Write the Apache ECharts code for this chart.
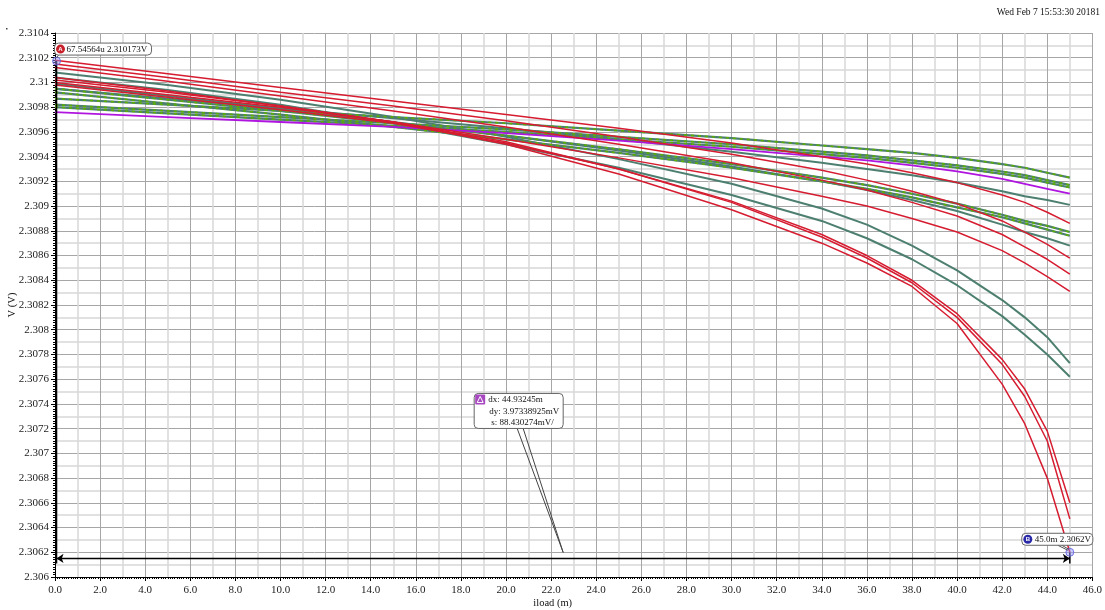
<!DOCTYPE html>
<html><head><meta charset="utf-8">
<script src="https://cdn.jsdelivr.net/npm/echarts@6/dist/echarts.min.js"></script>
<style>html,body{margin:0;padding:0;background:#fff}#c{width:1105px;height:610px}</style>
</head><body><div id="c"></div>
<script>
// ---- data ----
const xLoad = [0, 5, 10, 15, 20, 25, 30, 34, 36, 38, 40, 42, 43, 44, 45];
const red1 = [2.31018, 2.31007, 2.30996, 2.30985, 2.30974, 2.30963, 2.30951, 2.30940, 2.30934, 2.30927, 2.30919, 2.30909, 2.30903, 2.30895, 2.30886];
const red2 = [2.31015, 2.31004, 2.30992, 2.30981, 2.30969, 2.30956, 2.30942, 2.30929, 2.30921, 2.30912, 2.30902, 2.30888, 2.30879, 2.30869, 2.30858];
const red3 = [2.31012, 2.31001, 2.30989, 2.30977, 2.30964, 2.30950, 2.30935, 2.30921, 2.30913, 2.30903, 2.30892, 2.30877, 2.30867, 2.30857, 2.30845];
const red4 = [2.31004, 2.30993, 2.30981, 2.30968, 2.30954, 2.30939, 2.30923, 2.30908, 2.30900, 2.30890, 2.30879, 2.30864, 2.30854, 2.30843, 2.30831];
const redSteepA = [2.30998, 2.30988, 2.30978, 2.30967, 2.30951, 2.30930, 2.30904, 2.30877, 2.30860, 2.30840, 2.30813, 2.30776, 2.30752, 2.30718, 2.30660];
const redSteepB = [2.31000, 2.30990, 2.30980, 2.30968, 2.30952, 2.30930, 2.30903, 2.30875, 2.30858, 2.30838, 2.30810, 2.30772, 2.30746, 2.30710, 2.30647];
const redSteepC = [2.31002, 2.30992, 2.30981, 2.30968, 2.30950, 2.30926, 2.30897, 2.30870, 2.30854, 2.30835, 2.30805, 2.30756, 2.30724, 2.30680, 2.30620];
const tealM = [2.31008, 2.30998, 2.30986, 2.30972, 2.30956, 2.30938, 2.30918, 2.30898, 2.30885, 2.30868, 2.30848, 2.30824, 2.30810, 2.30794, 2.30773];
const tealN = [2.31004, 2.30994, 2.30982, 2.30967, 2.30950, 2.30931, 2.30909, 2.30888, 2.30874, 2.30857, 2.30836, 2.30811, 2.30796, 2.30780, 2.30762];
const tealI = [2.30999, 2.30989, 2.30979, 2.30968, 2.30957, 2.30945, 2.30932, 2.30920, 2.30913, 2.30905, 2.30896, 2.30885, 2.30879, 2.30874, 2.30868];
const tealE = [2.30995, 2.30987, 2.30979, 2.30971, 2.30963, 2.30954, 2.30944, 2.30935, 2.30930, 2.30925, 2.30919, 2.30912, 2.30908, 2.30905, 2.30901];
const bandG = [2.30995, 2.30986, 2.30977, 2.30967, 2.30957, 2.30946, 2.30934, 2.30923, 2.30917, 2.30910, 2.30902, 2.30893, 2.30888, 2.30884, 2.30879];
const bandH = [2.30992, 2.30983, 2.30974, 2.30964, 2.30954, 2.30943, 2.30931, 2.30920, 2.30914, 2.30907, 2.30899, 2.30891, 2.30886, 2.30881, 2.30876];
const bandA = [2.30987, 2.30982, 2.30977, 2.30972, 2.30967, 2.30961, 2.30955, 2.30949, 2.30946, 2.30943, 2.30939, 2.30934, 2.30931, 2.30927, 2.30923];
const bandB = [2.30982, 2.30977, 2.30972, 2.30967, 2.30962, 2.30956, 2.30950, 2.30944, 2.30941, 2.30937, 2.30933, 2.30928, 2.30925, 2.30921, 2.30917];
const bandC = [2.30980, 2.30975, 2.30970, 2.30965, 2.30960, 2.30954, 2.30948, 2.30942, 2.30939, 2.30935, 2.30931, 2.30926, 2.30923, 2.30919, 2.30915];
const purpleD = [2.30976, 2.30972, 2.30968, 2.30964, 2.30959, 2.30953, 2.30946, 2.30940, 2.30937, 2.30933, 2.30928, 2.30922, 2.30918, 2.30914, 2.30910];

const markerA = [0.06754564, 2.310173];
const markerB = [45.0, 2.3062];
const deltaLineV = 2.30615;
const markerFootV = 2.30611;
const markerAText = '67.54564u 2.310173V';
const markerBText = '45.0m 2.3062V';
const deltaTexts = ['dx: 44.93245m', 'dy: 3.97338925mV', 's: 88.430274mV/'];
const dateText = 'Wed Feb 7 15:53:30 20181';
const xName = 'iload (m)';
const yName = 'V (V)';
const xMin = 0, xMax = 46, xStep = 2;
const yMin = 2.306, yMax = 2.3104, yStep = 0.0002;

// ---- styles ----
const RED = '#d61c30', TEAL = '#4d7f70', GREEN = '#5cb000', PURPLE = '#b015e0';
const FONT = '"Liberation Serif", "DejaVu Serif", serif';

const traces = [
  {v: tealE, kind: 'teal'}, {v: tealI, kind: 'teal'}, {v: tealM, kind: 'teal'}, {v: tealN, kind: 'teal'},
  {v: bandG, kind: 'band'}, {v: bandH, kind: 'band'}, {v: bandA, kind: 'band'}, {v: bandB, kind: 'band'}, {v: bandC, kind: 'band'},
  {v: purpleD, kind: 'purple'},
  {v: red1, kind: 'red'}, {v: red2, kind: 'red'}, {v: red3, kind: 'red'}, {v: red4, kind: 'red'},
  {v: redSteepA, kind: 'red'}, {v: redSteepB, kind: 'red'}, {v: redSteepC, kind: 'red'}
];

const series = [];
traces.forEach(t => {
  const data = xLoad.map((x, i) => [x, t.v[i]]);
  const base = {type: 'line', data, showSymbol: false, symbol: 'none', smooth: false, silent: true, xAxisIndex: 0, yAxisIndex: 0};
  if (t.kind === 'red') series.push(Object.assign({}, base, {lineStyle: {color: RED, width: 1.5}, z: 4}));
  else if (t.kind === 'purple') series.push(Object.assign({}, base, {lineStyle: {color: PURPLE, width: 1.8}, z: 3}));
  else if (t.kind === 'teal') series.push(Object.assign({}, base, {lineStyle: {color: TEAL, width: 2}, z: 2}));
  else {
    series.push(Object.assign({}, base, {lineStyle: {color: TEAL, width: 2.2}, z: 2}));
    series.push(Object.assign({}, base, {lineStyle: {color: GREEN, width: 1.6, type: [3, 4]}, z: 2}));
  }
});
// marker vertical drop lines
series.push({type: 'line', data: [markerA, [markerA[0], markerFootV]], symbol: 'none', silent: true, lineStyle: {color: '#000', width: 1.5}, z: 6});
series.push({type: 'line', data: [markerB, [markerB[0], markerFootV]], symbol: 'none', silent: true, lineStyle: {color: '#000', width: 1.5}, z: 6});
// markers + dx line
series.push({
  type: 'scatter', data: [markerA, markerB], symbolSize: 8, silent: true, z: 10,
  itemStyle: {color: 'rgba(150,150,255,0.6)', borderColor: '#5a5ad8', borderWidth: 1},
  markLine: {
    silent: true, symbol: ['arrow', 'arrow'], symbolSize: 7, label: {show: false},
    lineStyle: {color: '#000', width: 1.3, type: 'solid'},
    data: [[{coord: [markerA[0], deltaLineV]}, {coord: [markerB[0], deltaLineV]}]]
  }
});

const axisLabelStyle = {color: '#222', fontFamily: FONT, fontSize: 11};
const option = {
  animation: false,
  backgroundColor: '#fff',
  grid: {left: 55, right: 12, top: 33, bottom: 33, containLabel: false},
  xAxis: [
    {type: 'value', min: xMin, max: xMax, interval: xStep, position: 'bottom',
     axisLine: {show: true, lineStyle: {color: '#000', width: 1}},
     axisTick: {show: false},
     axisLabel: Object.assign({}, axisLabelStyle, {margin: 8, formatter: v => v.toFixed(1)}),
     splitLine: {show: true, lineStyle: {color: '#a6a6a6', width: 1}},
     minorTick: {show: false, splitNumber: 2},
     minorSplitLine: {show: true, lineStyle: {color: '#d8d8d8', width: 1.5}}},
    {type: 'value', min: xMin, max: xMax, interval: xStep, position: 'bottom',
     axisLine: {show: false}, axisLabel: {show: false}, splitLine: {show: false},
     axisTick: {show: true, length: 4, lineStyle: {color: '#000'}},
     minorTick: {show: true, splitNumber: 20, length: 2, lineStyle: {color: '#000'}}}
  ],
  yAxis: [
    {type: 'value', min: yMin, max: yMax, interval: yStep, position: 'left',
     axisLine: {show: true, lineStyle: {color: '#000', width: 1}},
     axisTick: {show: false},
     axisLabel: Object.assign({}, axisLabelStyle, {margin: 6, formatter: v => String(parseFloat(v.toFixed(4)))}),
     splitLine: {show: true, lineStyle: {color: '#a6a6a6', width: 1}},
     minorTick: {show: false, splitNumber: 2},
     minorSplitLine: {show: true, lineStyle: {color: '#d8d8d8', width: 1.5}}},
    {type: 'value', min: yMin, max: yMax, interval: yStep, position: 'left',
     axisLine: {show: false}, axisLabel: {show: false}, splitLine: {show: false},
     axisTick: {show: true, length: 4, lineStyle: {color: '#000'}},
     minorTick: {show: true, splitNumber: 10, length: 2, lineStyle: {color: '#000'}}}
  ],
  series
};

const chart = echarts.init(document.getElementById('c'), null, {renderer: 'canvas'});
chart.setOption(option);

const toPx = p => chart.convertToPixel({xAxisIndex: 0, yAxisIndex: 0}, p);
const pA = toPx(markerA), pB = toPx(markerB);
const pMid = toPx([(markerA[0] + markerB[0]) / 2, deltaLineV]);
const pBL = toPx([xMin, yMin]), pTR = toPx([xMax, yMax]);
const txt = (x, y, s, extra) => ({type: 'text', x, y, silent: true, z: 50,
  style: Object.assign({text: s, fill: '#111', font: '9px ' + FONT, textVerticalAlign: 'middle'}, extra || {})});

const g = [];
// date
g.push(txt(1100, 12, dateText, {textAlign: 'right', font: '9.5px ' + FONT}));
g.push({type: 'rect', shape: {x: 6, y: 28, width: 1.5, height: 1.5}, style: {fill: '#444'}, silent: true});
// axis names
g.push(txt((pBL[0] + pTR[0]) / 2 - 21, 603, xName, {textAlign: 'center', font: '10.5px ' + FONT}));
g.push({type: 'text', x: 12, y: (pBL[1] + pTR[1]) / 2, rotation: Math.PI / 2, silent: true,
  style: {text: yName, fill: '#111', font: '10.5px ' + FONT, textAlign: 'center', textVerticalAlign: 'middle'}});
// marker A label
const ax = pA[0] - 2, ay = pA[1] - 18;
g.push({type: 'line', shape: {x1: pA[0] + 2, y1: ay + 12, x2: pA[0], y2: pA[1] - 3}, style: {stroke: '#555', lineWidth: 1}, silent: true, z: 49});
g.push({type: 'rect', shape: {x: ax, y: ay, width: 97, height: 12, r: 4}, style: {fill: '#fff', stroke: '#666', lineWidth: 1}, silent: true, z: 49});
g.push({type: 'circle', shape: {cx: ax + 6, cy: ay + 6, r: 4.5}, style: {fill: '#c8202a'}, silent: true, z: 50});
g.push(txt(ax + 6, ay + 6.5, 'A', {fill: '#fff', font: 'bold 6px sans-serif', textAlign: 'center'}));
g.push(txt(ax + 12, ay + 6.5, markerAText));
// marker B label
const bx = pB[0] - 48, by = pB[1] - 19;
g.push({type: 'line', shape: {x1: bx + 36, y1: by + 12, x2: pB[0] - 2, y2: pB[1] - 2}, style: {stroke: '#555', lineWidth: 1}, silent: true, z: 49});
g.push({type: 'line', shape: {x1: bx + 40, y1: by + 12, x2: pB[0] - 1, y2: pB[1] - 3}, style: {stroke: '#555', lineWidth: 1}, silent: true, z: 49});
g.push({type: 'rect', shape: {x: bx, y: by, width: 71, height: 12, r: 4}, style: {fill: '#fff', stroke: '#666', lineWidth: 1}, silent: true, z: 49});
g.push({type: 'circle', shape: {cx: bx + 6, cy: by + 6, r: 4.5}, style: {fill: '#2a2aa8'}, silent: true, z: 50});
g.push(txt(bx + 6, by + 6.5, 'B', {fill: '#fff', font: 'bold 6px sans-serif', textAlign: 'center'}));
g.push(txt(bx + 13, by + 6.5, markerBText));
// delta box
const dx0 = pMid[0] - 89, dy0 = pMid[1] - 165;
g.push({type: 'line', shape: {x1: dx0 + 43, y1: dy0 + 35, x2: pMid[0], y2: pMid[1] - 6}, style: {stroke: '#444', lineWidth: 1}, silent: true, z: 49});
g.push({type: 'line', shape: {x1: dx0 + 49, y1: dy0 + 35, x2: pMid[0], y2: pMid[1] - 6}, style: {stroke: '#444', lineWidth: 1}, silent: true, z: 49});
g.push({type: 'rect', shape: {x: dx0, y: dy0, width: 89, height: 35, r: 4}, style: {fill: '#fff', stroke: '#666', lineWidth: 1}, silent: true, z: 49});
g.push({type: 'rect', shape: {x: dx0 + 1, y: dy0 + 1, width: 10, height: 10, r: 1}, style: {fill: '#a848c0'}, silent: true, z: 50});
g.push({type: 'polygon', shape: {points: [[dx0 + 6, dy0 + 3], [dx0 + 9, dy0 + 9], [dx0 + 3, dy0 + 9]]}, style: {fill: 'none', stroke: '#fff', lineWidth: 1}, silent: true, z: 51});
g.push(txt(dx0 + 14, dy0 + 6, deltaTexts[0]));
g.push(txt(dx0 + 15, dy0 + 18, deltaTexts[1]));
g.push(txt(dx0 + 17, dy0 + 29.5, deltaTexts[2]));

chart.setOption({graphic: g});
</script>
</body></html>
